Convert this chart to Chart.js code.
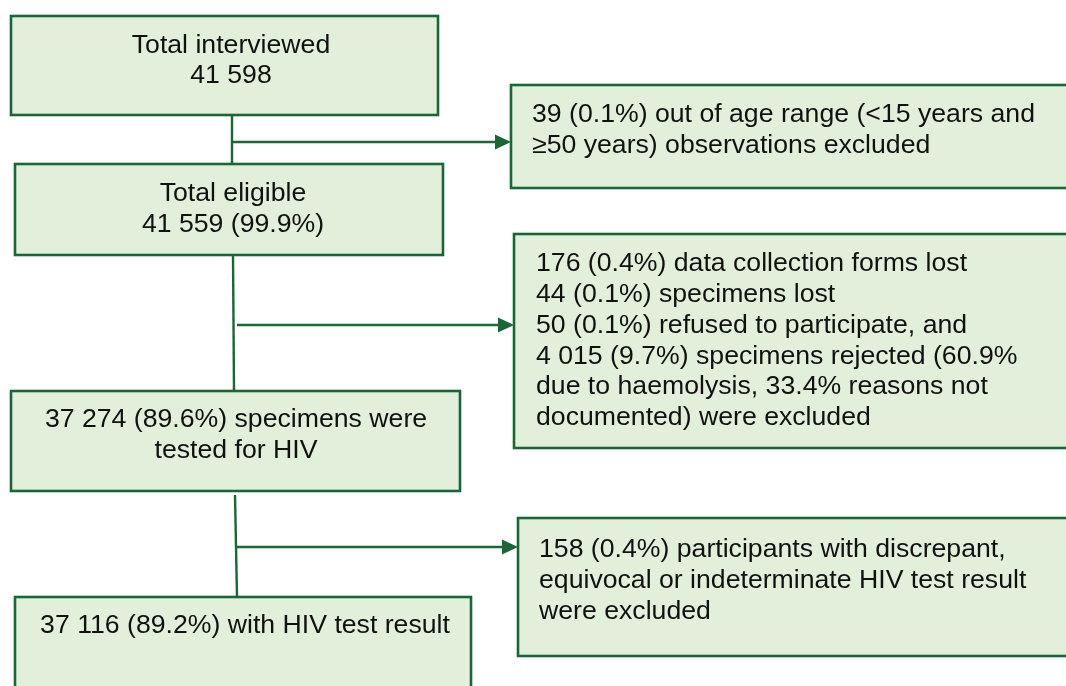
<!DOCTYPE html>
<html>
<head>
<meta charset="utf-8">
<script src="https://cdn.jsdelivr.net/npm/chart.js@4/dist/chart.umd.min.js"></script>
<style>
html,body{margin:0;padding:0;background:#fff;overflow:hidden;}
canvas{display:block;}
</style>
</head>
<body>
<canvas id="c" width="1066" height="686"></canvas>
<script>
// Flow-chart content
const mainSteps = [
  ["Total interviewed", "41 598"],
  ["Total eligible", "41 559 (99.9%)"],
  ["37 274 (89.6%) specimens were", "tested for HIV"],
  ["37 116 (89.2%) with HIV test result"]
];
const exclusions = [
  ["39 (0.1%) out of age range (<15 years and", "\u226550 years) observations excluded"],
  ["176 (0.4%) data collection forms lost", "44 (0.1%) specimens lost", "50 (0.1%) refused to participate, and",
   "4 015 (9.7%) specimens rejected (60.9%", "due to haemolysis, 33.4% reasons not", "documented) were excluded"],
  ["158 (0.4%) participants with discrepant,", "equivocal or indeterminate HIV test result", "were excluded"]
];

// Layout (scale units = pixels of the 1066x686 drawing area)
const mainBoxes = [
  {x0: 11, y0: 16, x1: 438, y1: 115, tx: 231, ty: 45.5},
  {x0: 15, y0: 164, x1: 443, y1: 255, tx: 233, ty: 194},
  {x0: 11, y0: 391, x1: 460, y1: 491, tx: 236, ty: 420},
  {x0: 15, y0: 597, x1: 471, y1: 700, tx: 245, ty: 626}
];
const exclBoxes = [
  {x0: 511, y0: 85, x1: 1080, y1: 188, tx: 532, ty: 115},
  {x0: 514, y0: 234, x1: 1080, y1: 448, tx: 536, ty: 264},
  {x0: 518, y0: 518, x1: 1080, y1: 656, tx: 539, ty: 550}
];
const verticals = [
  [232, 115, 232, 164],
  [233, 255, 234, 391],
  [235, 495, 237, 597]
];
const arrows = [
  [232, 142, 511],
  [237, 325, 514],
  [235, 547, 518]
];

const LINE = "#1b6536";
const FILL = "#e2efda";
const FONT = "26px 'Liberation Sans', Arial, sans-serif";
const STRETCH = 1.025;
const LH = 30.8;

const flowPlugin = {
  id: 'flow',
  afterDraw(chart) {
    const ctx = chart.ctx, sx = chart.scales.x, sy = chart.scales.y;
    const X = v => sx.getPixelForValue(v), Y = v => sy.getPixelForValue(v);
    ctx.save();
    ctx.strokeStyle = LINE;
    ctx.lineWidth = 2.4;
    verticals.forEach(v => {
      ctx.beginPath(); ctx.moveTo(X(v[0]), Y(v[1])); ctx.lineTo(X(v[2]), Y(v[3])); ctx.stroke();
    });
    arrows.forEach(a => {
      const xe = X(a[2]), yy = Y(a[1]);
      ctx.beginPath(); ctx.moveTo(X(a[0]), yy); ctx.lineTo(xe - 12, yy); ctx.stroke();
      ctx.fillStyle = LINE;
      ctx.beginPath(); ctx.moveTo(xe, yy); ctx.lineTo(xe - 16, yy - 7.5); ctx.lineTo(xe - 16, yy + 7.5); ctx.closePath(); ctx.fill();
    });
    const drawBox = (b) => {
      ctx.fillStyle = FILL;
      ctx.fillRect(X(b.x0), Y(b.y0), X(b.x1) - X(b.x0), Y(b.y1) - Y(b.y0));
      ctx.lineWidth = 2.6;
      ctx.strokeStyle = LINE;
      ctx.strokeRect(X(b.x0), Y(b.y0), X(b.x1) - X(b.x0), Y(b.y1) - Y(b.y0));
    };
    const text = (t, x, y, align) => {
      ctx.save();
      ctx.translate(x, y);
      ctx.scale(STRETCH, 1);
      ctx.textAlign = align;
      ctx.textBaseline = 'middle';
      ctx.font = FONT;
      ctx.fillStyle = '#111';
      ctx.fillText(t, 0, 0);
      ctx.restore();
    };
    mainBoxes.forEach((b, i) => {
      drawBox(b);
      mainSteps[i].forEach((t, k) => text(t, X(b.tx), Y(b.ty + k * LH), 'center'));
    });
    exclBoxes.forEach((b, i) => {
      drawBox(b);
      exclusions[i].forEach((t, k) => text(t, X(b.tx), Y(b.ty + k * LH), 'left'));
    });
    ctx.restore();
  }
};

new Chart(document.getElementById('c'), {
  type: 'scatter',
  data: { datasets: [{ data: [] }] },
  options: {
    responsive: false,
    animation: false,
    layout: { padding: 0 },
    plugins: { legend: { display: false }, tooltip: { enabled: false } },
    scales: {
      x: { type: 'linear', min: 0, max: 1066, display: false },
      y: { type: 'linear', min: 0, max: 686, reverse: true, display: false }
    }
  },
  plugins: [flowPlugin]
});
</script>
</body>
</html>
